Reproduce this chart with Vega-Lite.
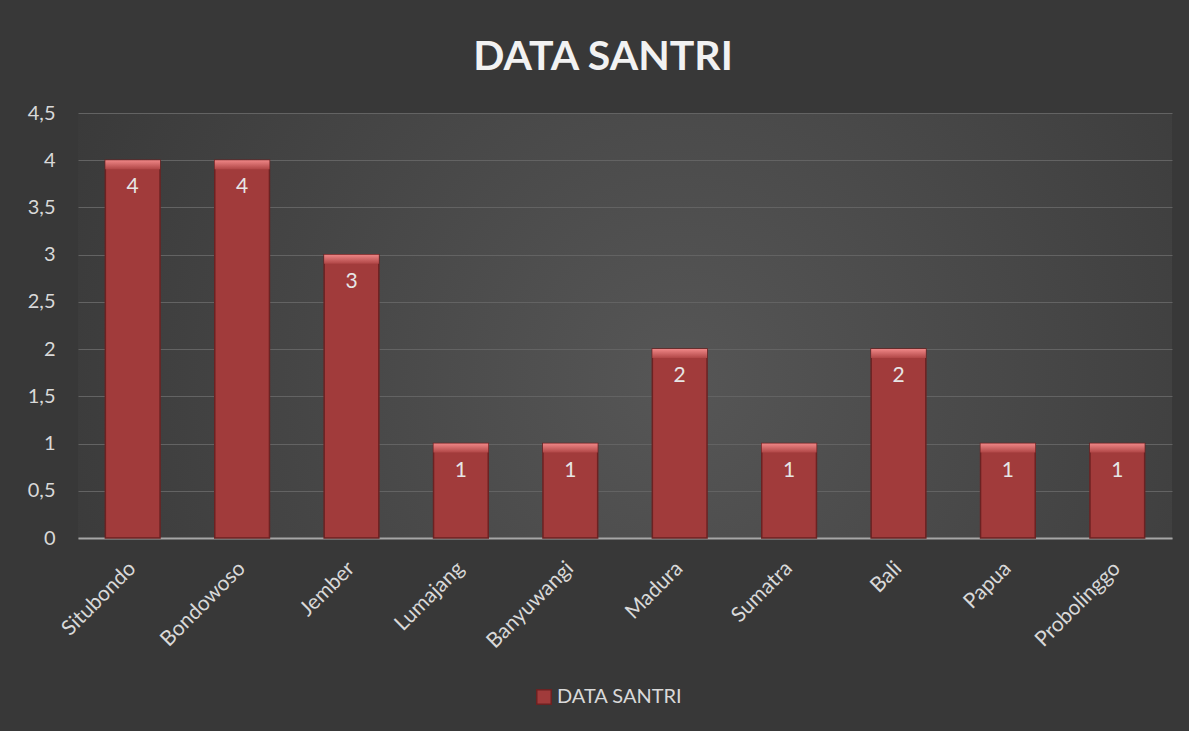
{
  "$schema": "https://vega.github.io/schema/vega-lite/v6.json",
  "width": 1094,
  "height": 425,
  "autosize": {"type": "none"},
  "padding": {"left": 78, "top": 113, "right": 17, "bottom": 193},
  "background": "#383838",
  "config": {
    "font": "Lato",
    "view": {
      "stroke": null,
      "fill": {
        "gradient": "radial",
        "x1": 0.55, "y1": 0.55, "r1": 0,
        "x2": 0.55, "y2": 0.55, "r2": 0.75,
        "stops": [
          {"offset": 0, "color": "#565656"},
          {"offset": 1, "color": "#333333"}
        ]
      }
    }
  },
  "title": {
    "text": "DATA SANTRI",
    "font": "Lato",
    "fontSize": 41,
    "fontWeight": "bold",
    "color": "#f2f2f2",
    "anchor": "middle",
    "dx": -22,
    "offset": 24
  },
  "data": {
    "values": [
      {"daerah": "Situbondo", "jumlah": 4},
      {"daerah": "Bondowoso", "jumlah": 4},
      {"daerah": "Jember", "jumlah": 3},
      {"daerah": "Lumajang", "jumlah": 1},
      {"daerah": "Banyuwangi", "jumlah": 1},
      {"daerah": "Madura", "jumlah": 2},
      {"daerah": "Sumatra", "jumlah": 1},
      {"daerah": "Bali", "jumlah": 2},
      {"daerah": "Papua", "jumlah": 1},
      {"daerah": "Probolinggo", "jumlah": 1}
    ]
  },
  "encoding": {
    "x": {
      "field": "daerah",
      "type": "nominal",
      "sort": null,
      "scale": {"paddingInner": 0.5, "paddingOuter": 0.25},
      "axis": {
        "title": null,
        "labelAngle": -45,
        "labelAlign": "right",
        "labelBaseline": "middle",
        "labelFontSize": 21,
        "labelColor": "#d9d9d9",
        "labelPadding": 27,
        "ticks": false,
        "domainColor": "#a6a6a6",
        "domainWidth": 2,
        "grid": false
      }
    },
    "y": {
      "field": "jumlah",
      "type": "quantitative",
      "scale": {"domain": [0, 4.5]},
      "axis": {
        "title": null,
        "values": [0, 0.5, 1, 1.5, 2, 2.5, 3, 3.5, 4, 4.5],
        "labelExpr": "replace(format(datum.value, '~r'), '.', ',')",
        "labelFontSize": 20,
        "labelColor": "#d9d9d9",
        "labelPadding": 23,
        "ticks": false,
        "domain": false,
        "gridColor": "#636363",
        "gridWidth": 1
      }
    }
  },
  "layer": [
    {
      "mark": {"type": "bar", "stroke": "#6b2222", "strokeWidth": 1.5},
      "encoding": {
        "color": {
          "datum": "DATA SANTRI",
          "scale": {"range": ["#a13b3b"]},
          "legend": {
            "title": null,
            "orient": "none",
            "legendX": 456,
            "legendY": 574,
            "symbolType": "square",
            "symbolSize": 210,
            "symbolStrokeColor": "#6b2222",
            "labelFontSize": 20,
            "labelColor": "#d9d9d9",
            "labelOffset": 3
          }
        }
      }
    },
    {
      "mark": {
        "type": "bar",
        "y2Offset": 9,
        "fill": {
          "gradient": "linear",
          "x1": 0, "y1": 0, "x2": 0, "y2": 1,
          "stops": [
            {"offset": 0, "color": "#ee8686"},
            {"offset": 1, "color": "#b04646"}
          ]
        }
      },
      "encoding": {
        "y2": {"field": "jumlah"}
      }
    },
    {
      "mark": {"type": "text", "dy": 27, "fontSize": 21, "color": "#e6e6e6"},
      "encoding": {
        "text": {"field": "jumlah", "type": "quantitative"}
      }
    }
  ]
}
